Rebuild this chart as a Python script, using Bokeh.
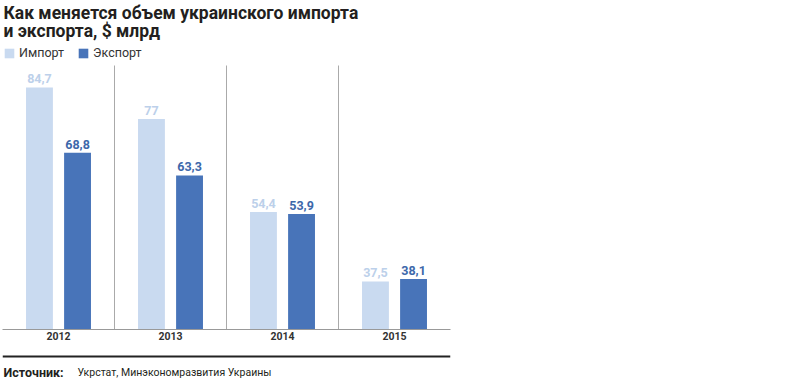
from bokeh.plotting import figure
from bokeh.layouts import column
from bokeh.models import (ColumnDataSource, FactorRange, Range1d, Label, Span,
                          Legend, LegendItem)
from bokeh.transform import dodge
from bokeh.core.properties import value
from bokeh.embed import file_html
from bokeh.resources import INLINE

# ---- data ----
years = ["2012", "2013", "2014", "2015"]
imports = [84.7, 77.0, 54.4, 37.5]
exports = [68.8, 63.3, 53.9, 38.1]
import_labels = ["84,7", "77", "54,4", "37,5"]
export_labels = ["68,8", "63,3", "53,9", "38,1"]
series_names = ["Импорт", "Экспорт"]
title_lines = ["Как меняется объем украинского импорта", "и экспорта, $ млрд"]
source_head = "Источник:"
source_body = "Укрстат, Минэкономразвития Украины"

# ---- styling / layout ----
IMP_COLOR = "#c9daf0"
EXP_COLOR = "#4874b9"
IMP_TEXT = "#bcd0ea"
EXP_TEXT = "#3d68aa"
TXT = "#231f20"
FONT = "Roboto"

W = 800
FL, FW = 2, 448
HA, FHA = 347, 329          # chart figure height, frame height (baseline at 329)
PLOT_TOP = 65               # top of bar area inside frame (px from top)
SCALE = 4.11                # px per unit
Y0 = 25.8                   # value at baseline
Y_END = Y0 + FHA / SCALE
Y_SEP = Y0 + (FHA - PLOT_TOP) / SCALE

src = ColumnDataSource(dict(year=years, imp=imports, exp=exports,
                            imp_lab=import_labels, exp_lab=export_labels))
sep = ColumnDataSource(dict(year=years[1:]))

p = figure(width=W, height=HA,
           x_range=FactorRange(*years, range_padding=0),
           y_range=Range1d(Y0, Y_END),
           output_backend="svg", toolbar_location=None,
           y_axis_location=None,
           min_border_left=FL, min_border_right=W - FW - FL,
           min_border_top=0, min_border_bottom=HA - FHA)
p.outline_line_color = None
p.xgrid.visible = False
p.ygrid.visible = False

p.segment(x0=dodge("year", -0.5, range=p.x_range), x1=dodge("year", -0.5, range=p.x_range),
          y0=Y0, y1=Y_SEP, source=sep, line_color="#aaaaaa", line_width=1)

r_imp = p.vbar(x=dodge("year", -0.17, range=p.x_range), top="imp", bottom=Y0, width=0.24,
               source=src, fill_color=IMP_COLOR, line_color=None)
r_exp = p.vbar(x=dodge("year", 0.17, range=p.x_range), top="exp", bottom=Y0, width=0.24,
               source=src, fill_color=EXP_COLOR, line_color=None)

p.text(x=dodge("year", -0.17, range=p.x_range), y="imp", text="imp_lab", source=src,
       text_align="center", text_baseline="bottom", y_offset=-4,
       text_font=value(FONT), text_font_style="bold", text_font_size="12.5px", text_color=IMP_TEXT)
p.text(x=dodge("year", 0.17, range=p.x_range), y="exp", text="exp_lab", source=src,
       text_align="center", text_baseline="bottom", y_offset=-4,
       text_font=value(FONT), text_font_style="bold", text_font_size="12.5px", text_color=EXP_TEXT)

ax = p.xaxis[0]
ax.axis_line_color = "#999999"
ax.axis_line_width = 1
ax.major_tick_line_color = None
ax.minor_tick_line_color = None
ax.major_label_standoff = -4
ax.major_label_text_font = FONT
ax.major_label_text_font_style = "bold"
ax.major_label_text_font_size = "10.5px"
ax.major_label_text_color = "#333333"

legend = Legend(items=[LegendItem(label=series_names[0], renderers=[r_imp]),
                       LegendItem(label=series_names[1], renderers=[r_exp])],
                orientation="horizontal", location=(1, FHA - 60),
                glyph_width=12, glyph_height=12, label_standoff=4, spacing=13,
                padding=0, margin=0, background_fill_alpha=0, border_line_color=None,
                label_text_font=FONT, label_text_font_size="12.5px", label_text_color="#333333",
                label_height=12)
p.add_layout(legend, "center")

for t, yc in zip(title_lines, [12, 30]):
    p.add_layout(Label(x=1, y=FHA - yc, x_units="screen", y_units="screen", text=t,
                       text_font=FONT, text_font_style="bold", text_font_size="17.5px",
                       text_color=TXT, text_baseline="middle"))

# ---- footer ----
HB = 32
q = figure(width=W, height=HB, x_range=Range1d(0, FW), y_range=Range1d(HB, 0),
           output_backend="svg", toolbar_location=None,
           x_axis_location=None, y_axis_location=None,
           min_border_left=FL, min_border_right=W - FW - FL, min_border_top=0, min_border_bottom=0)
q.outline_line_color = None
q.xgrid.visible = False
q.ygrid.visible = False
q.add_layout(Span(location=9, dimension="width", line_color="#222222", line_width=2))
q.add_layout(Label(x=1, y=24.5, text=source_head, text_font=FONT, text_font_style="bold",
                   text_font_size="12.5px", text_color=TXT, text_baseline="middle"))
q.add_layout(Label(x=75, y=24.5, text=source_body, text_font=FONT, text_font_style="normal",
                   text_font_size="10.5px", text_color=TXT, text_baseline="middle"))

layout = column(p, q, spacing=0)
open("out.html", "w").write(file_html(layout, INLINE))
